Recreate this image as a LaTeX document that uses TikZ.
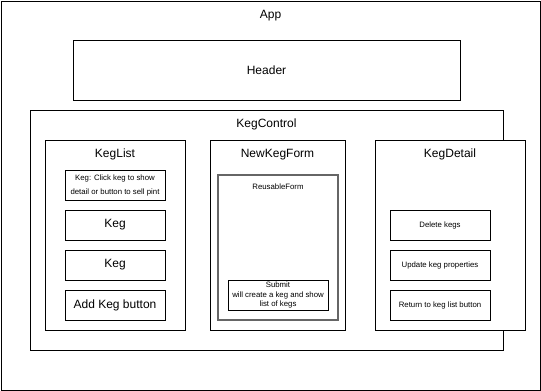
\documentclass[tikz,border=0pt]{standalone}
\usepackage{fontspec}
\setmainfont{Liberation Sans}
\usepackage{tikz}
\usetikzlibrary{positioning}
\definecolor{Ink}{HTML}{000000}
\definecolor{FormLine}{HTML}{666666}
\tikzset{
  frame/.style={draw=Ink,line width=1pt,inner sep=0pt,outer sep=0pt,fill=white},
  part/.style={frame,align=center,font=\fontsize{12}{14}\selectfont,text=Ink},
  smallpart/.style={frame,align=center,font=\fontsize{7.8}{9.5}\selectfont,text=Ink},
  formbox/.style={frame,draw=FormLine,line width=1.3pt},
  title/.style={inner sep=0pt,font=\fontsize{12}{14}\selectfont,text=Ink},
  smalltitle/.style={inner sep=0pt,font=\fontsize{7.8}{10}\selectfont,text=Ink}
}
\begin{document}
\begin{tikzpicture}[x=1pt,y=-1pt]
\useasboundingbox (0,0) rectangle (541,391);
% outer app frame and header
\node[frame,minimum width=539,minimum height=389] (app) at (270.5,195.5) {};
\node[title,below=9pt of app.north] (appT) {App};
\node[part,minimum width=387,minimum height=60] (header) at (266.5,70) {Header};
% keg control with its three panels
\node[frame,minimum width=473,minimum height=240] (ctrl) at (266.5,230) {};
\node[title,below=9pt of ctrl.north] (ctrlT) {KegControl};
\node[frame,minimum width=140,minimum height=190] (list) at (115,235) {};
\node[title,below=9pt of list.north] (listT) {KegList};
\node[frame,minimum width=135,minimum height=190] (form) at (277.5,235) {};
\node[title,below=9pt of form.north] (formT) {NewKegForm};
\node[frame,minimum width=150,minimum height=190] (detail) at (450,235) {};
\node[title,below=9pt of detail.north] (detailT) {KegDetail};
% KegList items
\node[smallpart,font=\fontsize{7.8}{14}\selectfont,minimum width=100,minimum height=30] (hint) at (115,185.5) {Keg: Click keg to show\\detail or button to sell  pint};
\node[part,minimum width=100,minimum height=30] (keg1) at (115,225) {Keg};
\node[part,minimum width=100,minimum height=30] (keg2) at (115,265) {Keg};
\node[part,minimum width=100,minimum height=30] (add) at (115,305) {Add Keg button};
% NewKegForm contents
\node[formbox,minimum width=120,minimum height=145] (reuse) at (278,247.5) {};
\node[smalltitle,below=9pt of reuse.north] (reuseT) {ReusableForm};
\node[smallpart,minimum width=100,minimum height=30] (submit) at (278,295) {Submit\\will create a keg and show\\list of kegs};
% KegDetail items
\node[smallpart,minimum width=100,minimum height=30] (del) at (440,225) {Delete kegs};
\node[smallpart,minimum width=100,minimum height=30] (upd) at (440,265) {Update keg properties};
\node[smallpart,minimum width=100,minimum height=30] (back) at (440,305) {Return to keg list button};
\end{tikzpicture}
\end{document}
